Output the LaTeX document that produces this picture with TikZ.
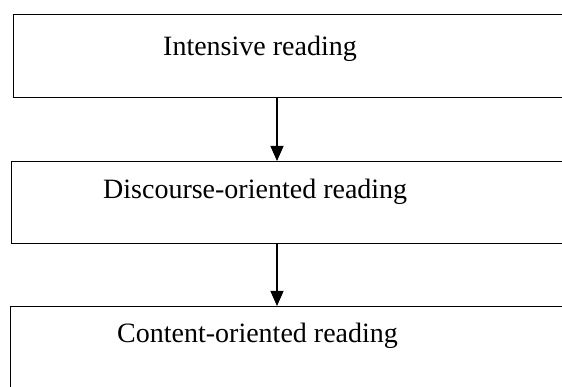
\documentclass[tikz,border=0pt]{standalone}
\usepackage{fontspec}
\setmainfont{Liberation Serif}
\usetikzlibrary{arrows.meta}
\begin{document}
\begin{tikzpicture}[x=1pt,y=1pt,
  stagebox/.style={draw=black, line width=1.1pt, inner sep=0pt},
  stagetext/.style={anchor=base west, inner sep=0pt, font=\fontsize{28}{32}\selectfont},
  flow/.style={draw=black, line width=1.1pt, -{Triangle[length=15pt,width=13pt]}}]
  \useasboundingbox (0,0) rectangle (562,-387);
  \clip (0,0) rectangle (562,-387);
  % stage boxes, running past the right and bottom edges
  \node[stagebox, anchor=north west, minimum width=590pt, minimum height=83pt] (b1) at (12.5,-14) {};
  \node[stagebox, anchor=north west, minimum width=590pt, minimum height=82pt] (b2) at (11,-161) {};
  \node[stagebox, anchor=north west, minimum width=590pt, minimum height=120pt] (b3) at (9.5,-306) {};
  % stage labels
  \node[stagetext] (t1) at (163,-56) {Intensive reading};
  \node[stagetext] (t2) at (103,-199) {Discourse-oriented reading};
  \node[stagetext] (t3) at (117,-342) {Content-oriented reading};
  % connectors
  \coordinate (ax) at (277,0);
  \draw[flow] (b1.south -| ax) -- (b2.north -| ax);
  \draw[flow] (b2.south -| ax) -- (b3.north -| ax);
\end{tikzpicture}
\end{document}
